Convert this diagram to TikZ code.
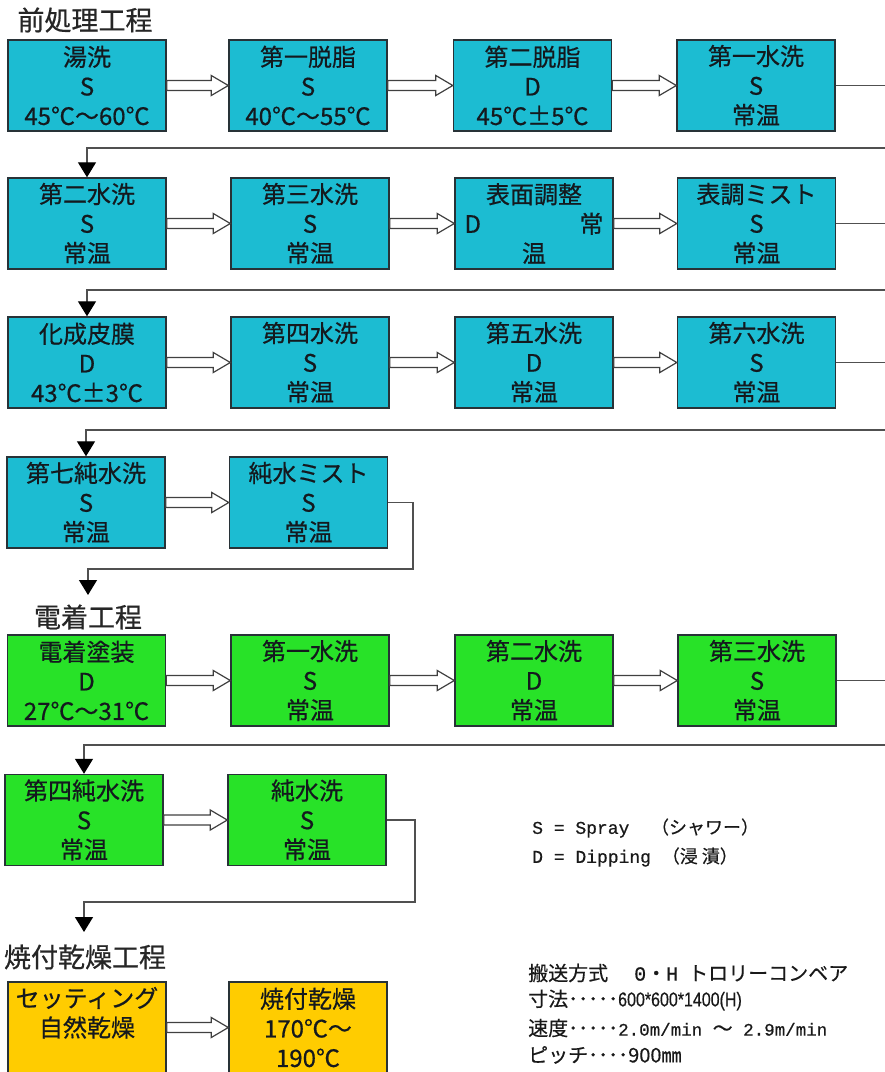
\documentclass[tikz,border=0pt]{standalone}
\usepackage{fontspec}
\setmainfont[FakeBold=0.6]{Noto Sans CJK JP}
\newfontfamily\jp[FakeBold=0.4]{Noto Sans CJK JP}
\newfontfamily\mono[FakeBold=0.6]{Liberation Mono}
\newfontfamily\narrowsans[FakeStretch=0.8,FakeBold=0.4]{Liberation Sans}
\usetikzlibrary{arrows.meta,calc}
\definecolor{cyanbox}{RGB}{28,188,210}
\definecolor{greenbox}{RGB}{40,226,40}
\definecolor{yellowbox}{RGB}{255,204,0}
\definecolor{edgecol}{RGB}{40,50,55}
\definecolor{txt}{RGB}{20,25,30}
\definecolor{linegray}{RGB}{80,80,80}
\tikzset{
  proc/.style={draw=edgecol, line width=1.4pt, minimum width=158pt, minimum height=91pt,
    inner sep=0pt, align=center, text=txt, font=\fontsize{24}{29.5}\selectfont},
  pre/.style={proc, fill=cyanbox},
  ed/.style={proc, fill=greenbox},
  bake/.style={proc, fill=yellowbox},
  title/.style={font=\fontsize{27}{30}\selectfont, text=black!85, inner sep=0pt},
  conn/.style={draw=linegray, line width=1.3pt},
  down/.style={conn, -{Triangle[length=15pt,width=18pt,color=black]}},
  hollow/.style={draw=black!75, line width=1.2pt, fill=white, line join=miter},
  legend/.style={anchor=west, inner sep=0pt, text=black!90, font=\jp\fontsize{18}{20}\selectfont},
  spec/.style={anchor=west, inner sep=0pt, text=black!90, font=\jp\fontsize{20}{22}\selectfont},
}
\newcommand\blockarrow[2]{%
  \path[hollow] let \p1=(#1.east), \p2=(#2.west) in
    (\x1,\y1+5pt) -- (\x2-17pt,\y1+5pt) -- (\x2-17pt,\y1+10pt) -- (\x2,\y1)
    -- (\x2-17pt,\y1-10pt) -- (\x2-17pt,\y1-5pt) -- (\x1,\y1-5pt) -- cycle;}
\begin{document}
\begin{tikzpicture}[x=1pt,y=-1pt]
\useasboundingbox (0,0) rectangle (885,1072);
% titles
\node[title] (t1) at (85,20) {前処理工程};
\node[title] (t2) at (88,617) {電着工程};
\node[title] (t3) at (85,957) {焼付乾燥工程};
% row 1
\node[pre] (a1) at (87,85.5) {湯洗\\S\\45℃～60℃};
\node[pre] (a2) at (308,85.5) {第一脱脂\\S\\40℃～55℃};
\node[pre] (a3) at (532.5,85.5) {第二脱脂\\D\\45℃±5℃};
\node[pre] (a4) at (756,85.5) {第一水洗\\S\\常温};
% row 2
\node[pre] (b1) at (87,223.5) {第二水洗\\S\\常温};
\node[pre] (b2) at (310,223.5) {第三水洗\\S\\常温};
\node[pre] (b3) at (534,223.5) {表面調整\\\makebox[139pt]{D\hfill 常}\\温};
\node[pre] (b4) at (756.5,223.5) {表調ミスト\\S\\常温};
% row 3
\node[pre] (c1) at (87,362.5) {化成皮膜\\D\\43℃±3℃};
\node[pre] (c2) at (310,362.5) {第四水洗\\S\\常温};
\node[pre] (c3) at (534,362.5) {第五水洗\\D\\常温};
\node[pre] (c4) at (756.5,362.5) {第六水洗\\S\\常温};
% row 4
\node[pre] (d1) at (86,502.5) {第七純水洗\\S\\常温};
\node[pre] (d2) at (308.5,502.5) {純水ミスト\\S\\常温};
% row 5
\node[ed] (e1) at (86.5,680.5) {電着塗装\\D\\27℃～31℃};
\node[ed] (e2) at (310,680.5) {第一水洗\\S\\常温};
\node[ed] (e3) at (534,680.5) {第二水洗\\D\\常温};
\node[ed] (e4) at (757,680.5) {第三水洗\\S\\常温};
% row 6
\node[ed] (f1) at (84,820) {第四純水洗\\S\\常温};
\node[ed] (f2) at (307,820) {純水洗\\S\\常温};
% row 7
\node[bake] (g1) at (87,1027.5) {セッティング\\自然乾燥\\\phantom{自}};
\node[bake] (g2) at (308,1027.5) {焼付乾燥\\170℃～\\190℃};
% block arrows
\blockarrow{a1}{a2}\blockarrow{a2}{a3}\blockarrow{a3}{a4}
\blockarrow{b1}{b2}\blockarrow{b2}{b3}\blockarrow{b3}{b4}
\blockarrow{c1}{c2}\blockarrow{c2}{c3}\blockarrow{c3}{c4}
\blockarrow{d1}{d2}
\blockarrow{e1}{e2}\blockarrow{e2}{e3}\blockarrow{e3}{e4}
\blockarrow{f1}{f2}
\blockarrow{g1}{g2}
% row links
\coordinate (R) at (900,0);
\coordinate (L1) at (0,148);
\coordinate (L2) at (0,290);
\coordinate (L3) at (0,430);
\coordinate (L5) at (0,745);
\coordinate (K1) at (413,569);
\coordinate (E1) at (88,595);
\coordinate (K2) at (415,902);
\coordinate (E2) at (84,932);
\draw[down] (a4.east) -- (a4.east -| R) -- (R |- L1) -| (b1.north);
\draw[down] (b4.east) -- (b4.east -| R) -- (R |- L2) -| (c1.north);
\draw[down] (c4.east) -- (c4.east -| R) -- (R |- L3) -| (d1.north);
\draw[down] (d2.east) -| (K1) -| (E1);
\draw[down] (e4.east) -- (e4.east -| R) -- (R |- L5) -| (f1.north);
\draw[down] (f2.east) -| (K2) -| (E2);
% legend
\node[legend] (k1) at (532,828) {{\mono S = Spray\ \ }（シャワー）};
\node[legend] (k2) at (532,857) {{\mono D = Dipping\ }（浸 漬）};
% spec
\node[spec] (s1) at (528,973) {搬送方式\hspace{1.3em}{\mono 0}・{\mono H}\hspace{0.5em}トロリーコンベア};
\node[spec] (s2) at (528,1000) {寸法･････{\narrowsans 600*600*1400(H)}};
\node[spec] (s3) at (528,1028) {速度･････{\mono\fontsize{17.5}{20}\selectfont 2.0m/min }～{\mono\fontsize{17.5}{20}\selectfont\ 2.9m/min}};
\node[spec] (s4) at (528,1055) {ピッチ････900㎜};
\end{tikzpicture}
\end{document}
